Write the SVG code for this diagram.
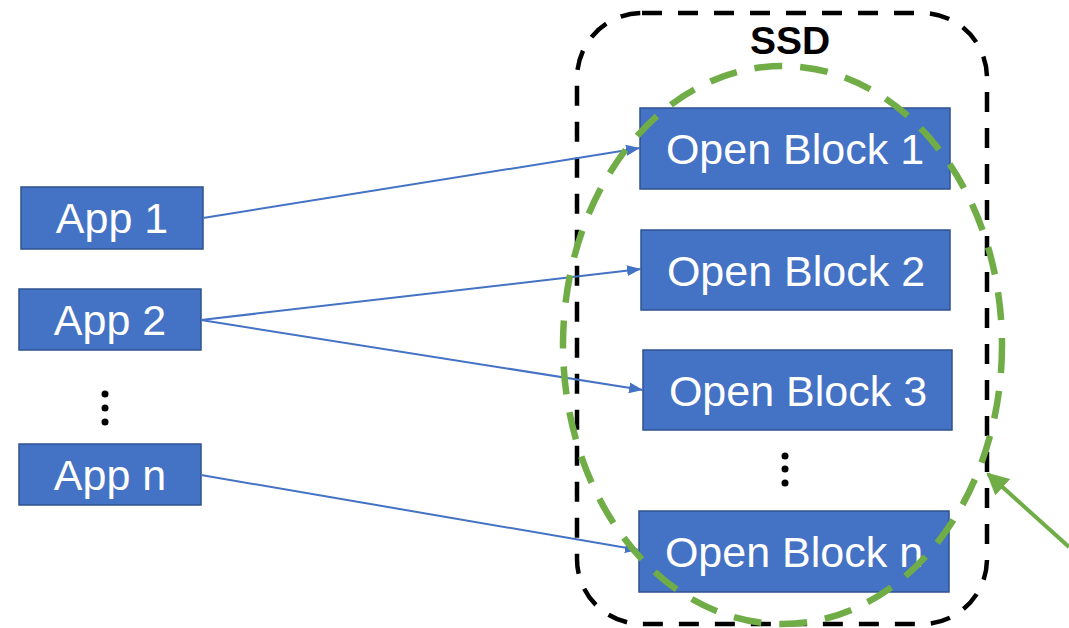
<svg xmlns="http://www.w3.org/2000/svg" width="1069" height="628" viewBox="0 0 1069 628">
<style>
.box{fill:#4472C4;stroke:#2F528F;stroke-width:1.5}
.lbl{font-family:"Liberation Sans",Arial,sans-serif;font-size:43px;fill:#fff;text-anchor:middle}
.con{stroke:#4472C4;stroke-width:2;fill:none}
.dot{fill:#000}
</style>
<defs>
<marker id="ab" viewBox="0 0 14 11" refX="14" refY="5.5" markerWidth="14" markerHeight="11" markerUnits="userSpaceOnUse" orient="auto">
<path d="M0,0 L14,5.5 L0,11 z" fill="#4472C4"/>
</marker>
<marker id="ag" viewBox="0 0 10 10" refX="9" refY="5" markerWidth="5.5" markerHeight="5.5" orient="auto">
<path d="M0,0 L10,5 L0,10 z" fill="#70AD47"/>
</marker>
</defs>
<rect width="1069" height="628" fill="#fff"/>
<g id="ssd">
<rect x="577" y="13" width="410" height="611" rx="65" ry="65" fill="none" stroke="#000" stroke-width="4.5" stroke-dasharray="20 16"/>
<text x="790" y="54" font-family="Liberation Sans,Arial,sans-serif" font-size="39" font-weight="bold" text-anchor="middle" fill="#000">SSD</text>
</g>
<g id="app1"><rect class="box" x="21" y="187" width="182" height="62"/><text class="lbl" x="112" y="233">App 1</text></g>
<g id="app2"><rect class="box" x="19" y="289" width="182" height="61"/><text class="lbl" x="110" y="335">App 2</text></g>
<g id="appdots"><circle class="dot" cx="105" cy="394" r="3.5"/><circle class="dot" cx="105" cy="408" r="3.5"/><circle class="dot" cx="105" cy="422" r="3.5"/></g>
<g id="appn"><rect class="box" x="19" y="444" width="182" height="61"/><text class="lbl" x="110" y="490">App n</text></g>
<g id="ob1"><rect class="box" x="640" y="108" width="310" height="81"/><text class="lbl" x="795" y="164">Open Block 1</text></g>
<g id="ob2"><rect class="box" x="641" y="230" width="309" height="80"/><text class="lbl" x="796" y="286">Open Block 2</text></g>
<g id="ob3"><rect class="box" x="643" y="350" width="309" height="80"/><text class="lbl" x="798" y="406">Open Block 3</text></g>
<g id="obdots"><circle class="dot" cx="785" cy="456" r="3.5"/><circle class="dot" cx="785" cy="469" r="3.5"/><circle class="dot" cx="785" cy="483" r="3.5"/></g>
<g id="obn"><rect class="box" x="639" y="511" width="310" height="81"/><text class="lbl" x="794" y="567">Open Block n</text></g>
<g id="connectors">
<line class="con" x1="203" y1="218" x2="640" y2="148" marker-end="url(#ab)"/>
<line class="con" x1="201" y1="320" x2="641" y2="269" marker-end="url(#ab)"/>
<line class="con" x1="201" y1="320" x2="643" y2="390" marker-end="url(#ab)"/>
<line class="con" x1="201" y1="475" x2="639" y2="550" marker-end="url(#ab)"/>
<line x1="1069" y1="547" x2="988" y2="474" stroke="#70AD47" stroke-width="4" marker-end="url(#ag)"/>
</g>
<g id="group">
<ellipse cx="782.5" cy="345" rx="219.5" ry="279" fill="none" stroke="#70AD47" stroke-width="6.5" stroke-dasharray="28 18"/>
</g>
</svg>
